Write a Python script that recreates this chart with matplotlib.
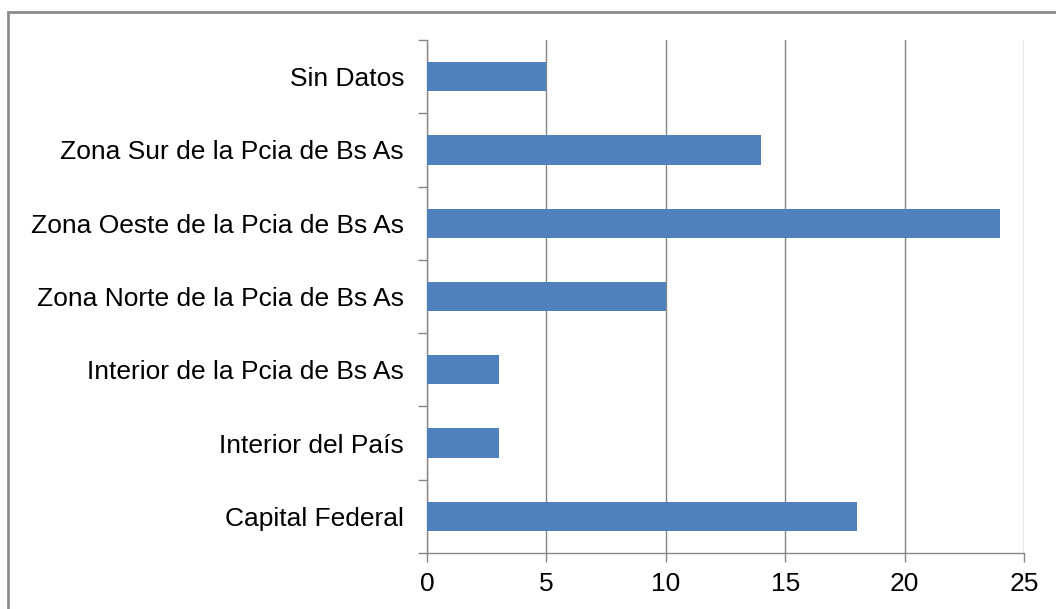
import matplotlib
matplotlib.use("Agg")
import matplotlib.pyplot as plt
from matplotlib.patches import Rectangle

categories = ["Capital Federal", "Interior del País", "Interior de la Pcia de Bs As",
              "Zona Norte de la Pcia de Bs As", "Zona Oeste de la Pcia de Bs As",
              "Zona Sur de la Pcia de Bs As", "Sin Datos"]
values = [18, 3, 3, 10, 24, 14, 5]
xticks = [0, 5, 10, 15, 20, 25]

plt.rcParams['font.family'] = ['Liberation Sans', 'DejaVu Sans']

fig = plt.figure(figsize=(10.56, 6.09), dpi=100)
ax = fig.add_axes([427/1056, 1-553/609, (1024-427)/1056, (553-40)/609])

gray = "#868686"
ax.barh(range(len(categories)), values, height=0.4, color="#4F81BD", zorder=3)
ax.set_xlim(0, 25)
ax.set_ylim(-0.5, len(categories)-0.5)
ax.set_xticks(xticks)
ax.xaxis.grid(True, color=gray, linewidth=1, zorder=0)

ax.set_yticks([i - 0.5 for i in range(len(categories)+1)])
ax.set_yticklabels([])
ax.set_yticks(range(len(categories)), minor=True)
ax.set_yticklabels(categories, minor=True)
ax.tick_params(axis='y', which='minor', length=0, pad=16.5, labelsize=19, labelcolor="#000000")
ax.tick_params(axis='y', which='major', length=6.5, color=gray, width=1)
ax.tick_params(axis='x', length=6.5, color=gray, width=1, labelsize=19, pad=7)

for s in ['top', 'right']:
    ax.spines[s].set_visible(False)
for s in ['left', 'bottom']:
    ax.spines[s].set_color(gray)
    ax.spines[s].set_linewidth(1)

fig.patches.append(Rectangle((8/1056, -0.1), 1.2, 1-12/609+0.1, transform=fig.transFigure,
                             fill=False, edgecolor="#8c8c8c", linewidth=2))

fig.savefig("out.png", dpi=100)
